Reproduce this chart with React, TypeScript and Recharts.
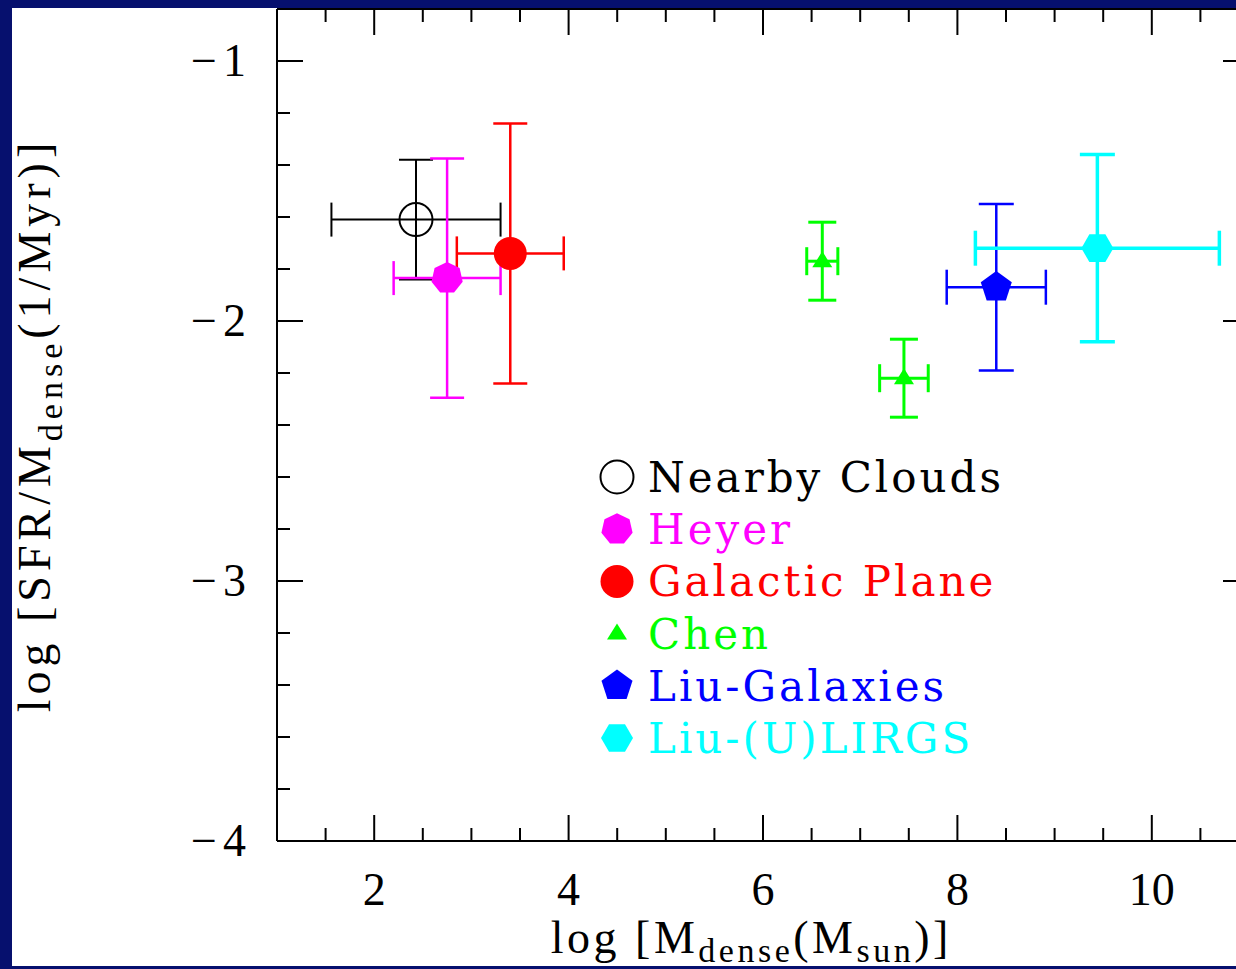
import { ErrorBar, Label, ReferenceLine, Scatter, ScatterChart, XAxis, YAxis } from "recharts";

// log M_dense (x), log SFR/M_dense (y), symmetric errors ex / ey
const nearbyClouds = [{ x: 2.43, y: -1.61, ex: 0.87, ey: 0.23 }];
const heyer = [{ x: 2.75, y: -1.835, ex: 0.55, ey: 0.46 }];
const galacticPlane = [{ x: 3.4, y: -1.74, ex: 0.55, ey: 0.5 }];
const chen = [
  { x: 6.61, y: -1.77, ex: 0.16, ey: 0.15 },
  { x: 7.45, y: -2.22, ex: 0.25, ey: 0.15 },
];
const liuGalaxies = [{ x: 8.4, y: -1.87, ex: 0.51, ey: 0.32 }];
const liuULIRGs = [{ x: 9.44, y: -1.72, ex: 1.255, ey: 0.36 }];

const xTicks = [1, 1.5, 2, 2.5, 3, 3.5, 4, 4.5, 5, 5.5, 6, 6.5, 7, 7.5, 8, 8.5, 9, 9.5, 10, 10.5, 11];
const yTicks = [-4, -3.8, -3.6, -3.4, -3.2, -3, -2.8, -2.6, -2.4, -2.2, -2, -1.8, -1.6, -1.4, -1.2, -1, -0.8];
const xDomain = [1, 11];
const yDomain = [-4, -0.8];

type Kind = "openCircle" | "heptagon" | "circle" | "triangle" | "pentagon" | "hexagon";

const series: { name: string; data: typeof chen; color: string; kind: Kind; sw: number; cap: number }[] = [
  { name: "Nearby Clouds", data: nearbyClouds, color: "#000000", kind: "openCircle", sw: 2, cap: 17 },
  { name: "Heyer", data: heyer, color: "#ff00ff", kind: "heptagon", sw: 2.5, cap: 17 },
  { name: "Galactic Plane", data: galacticPlane, color: "#ff0000", kind: "circle", sw: 2.5, cap: 17 },
  { name: "Chen", data: chen, color: "#00ff00", kind: "triangle", sw: 3, cap: 14 },
  { name: "Liu-Galaxies", data: liuGalaxies, color: "#0000ff", kind: "pentagon", sw: 2.5, cap: 17.5 },
  { name: "Liu-(U)LIRGS", data: liuULIRGs, color: "#00ffff", kind: "hexagon", sw: 3.5, cap: 17.5 },
];

const NAVY = "#06106e";
const SERIF = "'Liberation Serif', 'Times New Roman', serif";
const TYPE = "'DejaVu Serif', serif";

function poly(cx: number, cy: number, r: number, n: number, start: number) {
  const pts = [];
  for (let i = 0; i < n; i++) {
    const a = ((start + (360 * i) / n) * Math.PI) / 180;
    pts.push(`${cx + r * Math.cos(a)},${cy + r * Math.sin(a)}`);
  }
  return pts.join(" ");
}

function Marker({ kind, cx, cy, color }: { kind: Kind; cx: number; cy: number; color: string }) {
  switch (kind) {
    case "openCircle":
      return <circle cx={cx} cy={cy} r={16.5} fill="none" stroke={color} strokeWidth={2} />;
    case "circle":
      return <circle cx={cx} cy={cy} r={16.5} fill={color} />;
    case "heptagon":
      return <polygon points={poly(cx, cy, 16, 7, -90)} fill={color} />;
    case "triangle":
      return <polygon points={`${cx},${cy - 10} ${cx - 10},${cy + 6} ${cx + 10},${cy + 6}`} fill={color} />;
    case "pentagon":
      return <polygon points={poly(cx, cy, 16.3, 5, -90)} fill={color} />;
    default:
      return <polygon points={poly(cx, cy, 16, 6, 0)} fill={color} />;
  }
}

const isInt = (v: number) => Math.abs(v - Math.round(v)) < 1e-6;
const isMajorX = (v: number) => isInt(v) && Math.round(v) % 2 === 0;

const BottomTick = (props: any) => {
  const { x, y, payload } = props;
  const v = payload.value;
  const major = isMajorX(v);
  return (
    <g>
      <line x1={x} y1={y} x2={x} y2={y - (major ? 26 : 13)} stroke="#000" strokeWidth={2} />
      {major && (
        <text x={x} y={y + 64} textAnchor="middle" fontFamily={SERIF} fontSize={46} fill="#000">
          {v}
        </text>
      )}
    </g>
  );
};

const LeftTick = (props: any) => {
  const { x, y, payload } = props;
  const v = payload.value;
  const major = isInt(v);
  return (
    <g>
      <line x1={x} y1={y} x2={x + (major ? 26 : 13)} y2={y} stroke="#000" strokeWidth={2} />
      {major && (
        <text x={x - 31} y={y + 15} textAnchor="end" fontFamily={SERIF} fontSize={46} fill="#000">
          <tspan>−</tspan>
          <tspan dx={6}>{Math.abs(Math.round(v))}</tspan>
        </text>
      )}
    </g>
  );
};

const RightTick = (props: any) => {
  const { x, y, payload } = props;
  const major = isInt(payload.value);
  return <line x1={x} y1={y} x2={x - (major ? 26 : 13)} y2={y} stroke="#000" strokeWidth={2} />;
};

const XTitle = (props: any) => {
  const vb = props.viewBox;
  const cx = vb.x + vb.width * 0.488;
  return (
    <text x={cx} y={vb.y + 112} textAnchor="middle" fontFamily={SERIF} fontSize={46} fill="#000" letterSpacing={3.5}>
      <tspan>log  [M</tspan>
      <tspan fontSize={34} dy={9}>dense</tspan>
      <tspan dy={-9}>(M</tspan>
      <tspan fontSize={34} dy={9}>sun</tspan>
      <tspan dy={-9}>)]</tspan>
    </text>
  );
};

const YTitle = (props: any) => {
  const vb = props.viewBox;
  const bx = vb.x + 50;
  const cy = vb.y + vb.height / 2;
  return (
    <text
      x={bx}
      y={cy}
      transform={`rotate(-90, ${bx}, ${cy})`}
      textAnchor="middle"
      fontFamily={SERIF}
      fontSize={46}
      fill="#000"
      letterSpacing={5}
    >
      <tspan>log  [SFR/M</tspan>
      <tspan fontSize={34} dy={12}>dense</tspan>
      <tspan dy={-12}>(1/Myr)]</tspan>
    </text>
  );
};

function LegendBox() {
  return (
    <svg width={540} height={330} style={{ position: "absolute", left: 580, top: 440 }}>
      {series.map((s, i) => {
        const cy = 37 + i * 52.2;
        return (
          <g key={s.name}>
            <Marker kind={s.kind} cx={37} cy={cy} color={s.color} />
            <text x={68} y={cy + 15} fontFamily={TYPE} fontSize={42} letterSpacing={3} fill={s.color}>
              {s.name}
            </text>
          </g>
        );
      })}
    </svg>
  );
}

// top frame ticks hang down from the upper domain edge (0.1 units = 26px)
const yTop = yDomain[1];

export default function App() {
  return (
    <div style={{ position: "fixed", left: 0, top: 0, width: 1236, height: 969, background: NAVY, overflow: "hidden" }}>
      <div style={{ position: "absolute", left: 12, top: 8, width: 1240, height: 958, background: "#fff" }} />
      <div style={{ position: "absolute", left: 0, top: 0 }}>
        <ScatterChart width={1260} height={969} margin={{ top: 9, right: 0, bottom: 0, left: 0 }}>
          <XAxis
            xAxisId={0}
            type="number"
            dataKey="x"
            domain={xDomain}
            ticks={xTicks}
            interval={0}
            allowDataOverflow
            height={128}
            tickSize={0}
            tickMargin={0}
            tickLine={false}
            axisLine={{ stroke: "#000", strokeWidth: 2 }}
            tick={BottomTick}
          >
            <Label content={XTitle} />
          </XAxis>
          <YAxis
            yAxisId={0}
            type="number"
            dataKey="y"
            domain={yDomain}
            ticks={yTicks}
            interval={0}
            allowDataOverflow
            width={277}
            tickSize={0}
            tickMargin={0}
            tickLine={false}
            axisLine={{ stroke: "#000", strokeWidth: 2 }}
            tick={LeftTick}
          >
            <Label content={YTitle} />
          </YAxis>
          <YAxis
            yAxisId="right"
            orientation="right"
            type="number"
            domain={yDomain}
            ticks={yTicks}
            interval={0}
            allowDataOverflow
            width={11}
            tickSize={0}
            tickMargin={0}
            tickLine={false}
            axisLine={{ stroke: "#000", strokeWidth: 2 }}
            tick={RightTick}
          />
          <ReferenceLine y={yTop} stroke="#000" strokeWidth={2} ifOverflow="visible" />
          {xTicks.map((v) => (
            <ReferenceLine
              key={`t${v}`}
              segment={[
                { x: v, y: yTop },
                { x: v, y: yTop - (isMajorX(v) ? 0.1 : 0.05) },
              ]}
              stroke="#000"
              strokeWidth={2}
              ifOverflow="visible"
            />
          ))}
          {series.map((s) => (
            <Scatter
              key={s.name}
              name={s.name}
              data={s.data}
              dataKey="y"
              xAxisId={0}
              yAxisId={0}
              isAnimationActive={false}
              shape={(p: any) => <Marker kind={s.kind} cx={p.cx} cy={p.cy} color={s.color} />}
            >
              <ErrorBar dataKey="ex" direction="x" width={s.cap} stroke={s.color} strokeWidth={s.sw} isAnimationActive={false} />
              <ErrorBar dataKey="ey" direction="y" width={s.cap} stroke={s.color} strokeWidth={s.sw} isAnimationActive={false} />
            </Scatter>
          ))}
        </ScatterChart>
      </div>
      <LegendBox />
    </div>
  );
}
